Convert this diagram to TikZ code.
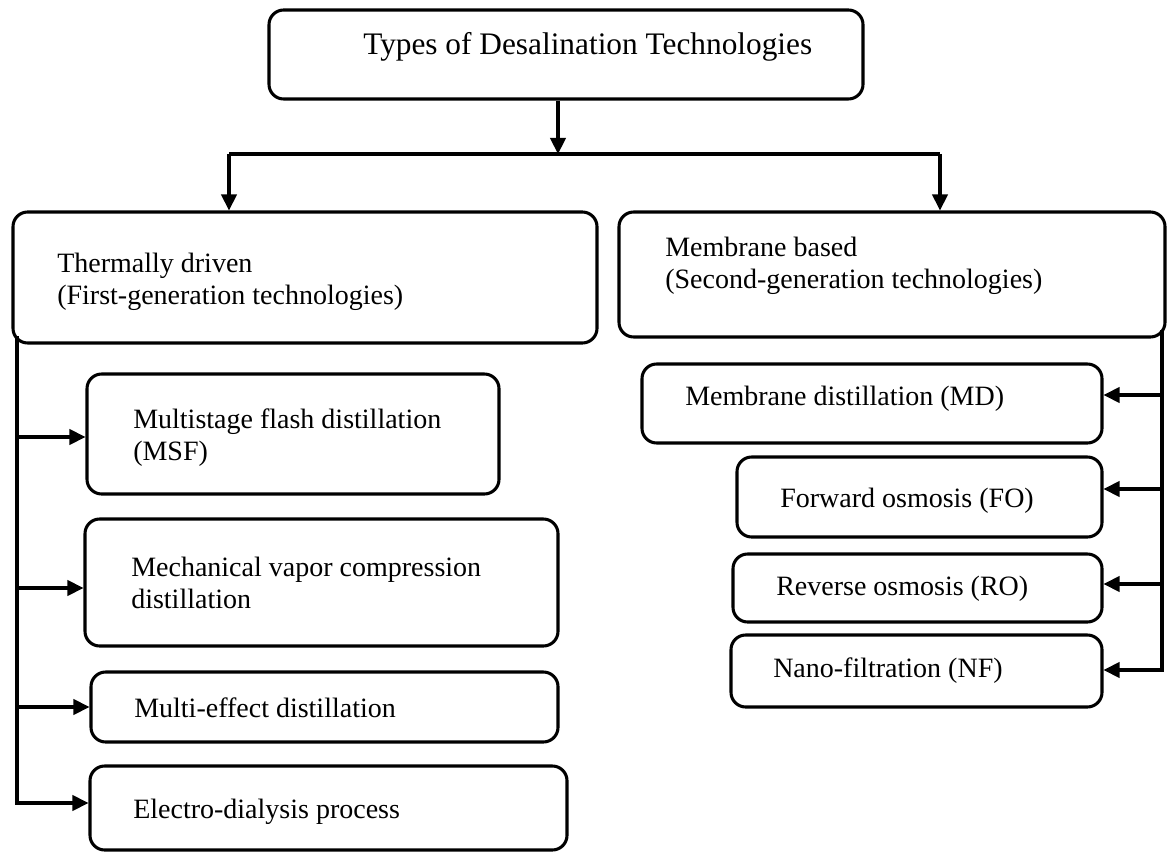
\documentclass[tikz,border=0pt]{standalone}
\usepackage{fontspec}
\setmainfont{Liberation Serif}
\usetikzlibrary{arrows.meta}
\begin{document}
\begin{tikzpicture}[x=0.75pt,y=-0.75pt,
  bx/.style 2 args={draw, line width=2.3pt, rounded corners=11pt,
    minimum width=#1*0.75pt, minimum height=#2*0.75pt, inner sep=0pt},
  lbl/.style={anchor=base west, inner sep=0pt, font=\fontsize{21}{24}\selectfont},
  ttl/.style={anchor=base west, inner sep=0pt, font=\fontsize{23.5}{27}\selectfont},
  conn/.style={line width=2.3pt},
  arr/.style={conn, -{Triangle[length=12pt,width=11.5pt]}}]
\useasboundingbox (0,0) rectangle (1167,852);

% boxes
\node[bx={594}{89}]  (top)     at (566,54.5) {};
\node[bx={584}{131}] (therm)   at (305,277.5) {};
\node[bx={546}{125}] (memb)    at (892,274.5) {};
\node[bx={412}{120}] (msf)     at (293,434) {};
\node[bx={473}{127}] (mech)    at (321.5,582.5) {};
\node[bx={467}{70}]  (multi)   at (324.5,707) {};
\node[bx={477}{84}]  (electro) at (328.5,808) {};
\node[bx={460}{79}]  (md)      at (872,403.5) {};
\node[bx={365}{80}]  (fo)      at (919.5,497) {};
\node[bx={369}{68}]  (ro)      at (917.5,588) {};
\node[bx={371}{72}]  (nf)      at (916.5,671) {};

% texts
\node[ttl] (tTop) at (363,55) {Types of Desalination Technologies};
\node[lbl] (tThA) at (57,273) {Thermally driven};
\node[lbl] (tThB) at (57,305) {(First-generation technologies)};
\node[lbl] (tMbA) at (665,257) {Membrane based};
\node[lbl] (tMbB) at (665,289) {(Second-generation technologies)};
\node[lbl] (tMsA) at (133,428) {Multistage flash distillation};
\node[lbl] (tMsB) at (133,460) {(MSF)};
\node[lbl] (tMeA) at (131,576) {Mechanical vapor compression};
\node[lbl] (tMeB) at (131,608) {distillation};
\node[lbl] (tMu)  at (134,717) {Multi-effect distillation};
\node[lbl] (tEl)  at (133,818) {Electro-dialysis process};
\node[lbl] (tMd)  at (685,405) {Membrane distillation (MD)};
\node[lbl] (tFo)  at (780,507) {Forward osmosis (FO)};
\node[lbl] (tRo)  at (776,595) {Reverse osmosis (RO)};
\node[lbl] (tNf)  at (773,677) {Nano-filtration (NF)};

% junction coordinates
\coordinate (j)  at (558,154);
\coordinate (jl) at (229,154);
\coordinate (jr) at (940,154);
\coordinate (l0) at (17,336);
\coordinate (l1) at (17,437);
\coordinate (l2) at (17,588);
\coordinate (l3) at (17,707);
\coordinate (l4) at (17,803);
\coordinate (r0) at (1162,330);
\coordinate (r1) at (1162,395);
\coordinate (r2) at (1162,489);
\coordinate (r3) at (1162,584);
\coordinate (r4) at (1162,670);

% top connectors
\draw[arr] (top.south -| j) -- (j);
\draw[conn] (jl) -- (jr);
\draw[arr] (jl) -- (jl |- therm.north);
\draw[arr] (jr) -- (jr |- memb.north);

% left spine
\draw[arr] (l0) -- (l4) -- (l4 -| electro.west);
\draw[arr] (l1) -- (l1 -| msf.west);
\draw[arr] (l2) -- (l2 -| mech.west);
\draw[arr] (l3) -- (l3 -| multi.west);

% right spine
\draw[arr] (r0) -- (r4) -- (r4 -| nf.east);
\draw[arr] (r1) -- (r1 -| md.east);
\draw[arr] (r2) -- (r2 -| fo.east);
\draw[arr] (r3) -- (r3 -| ro.east);
\end{tikzpicture}
\end{document}
